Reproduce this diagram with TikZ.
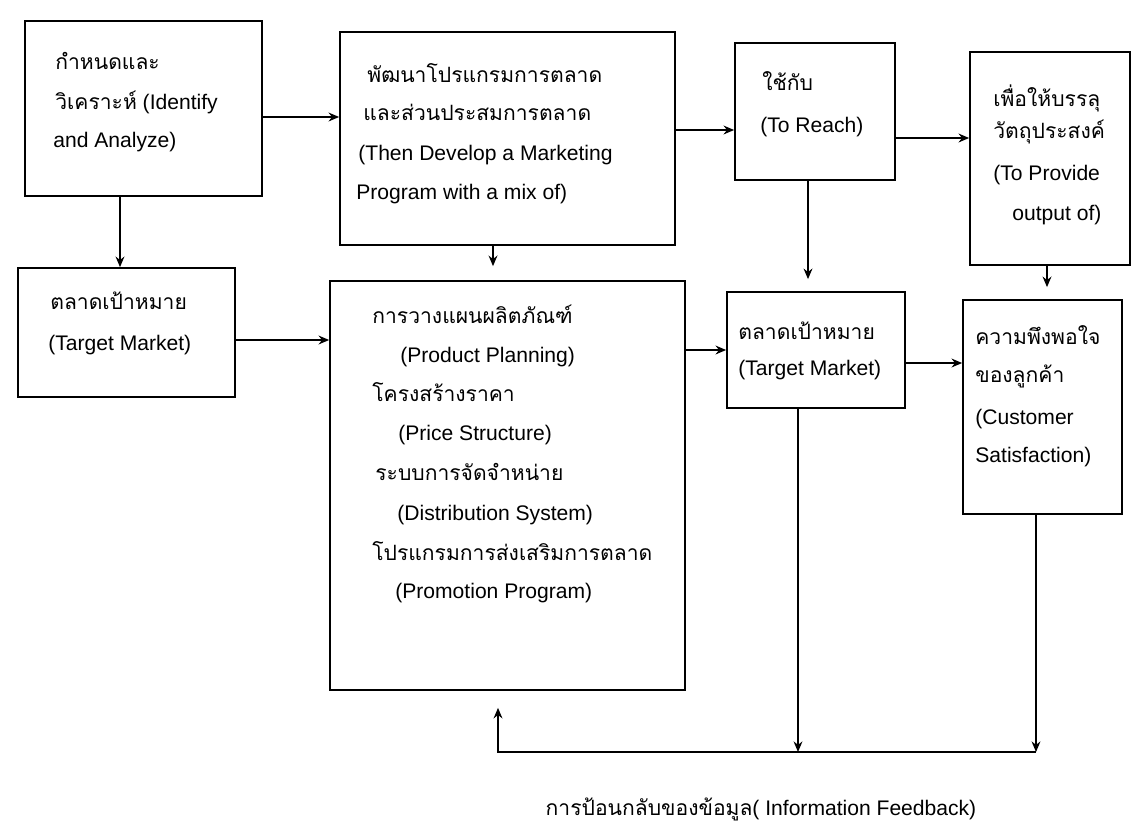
\documentclass[tikz,border=0pt]{standalone}
\usepackage{fontspec}
\setmainfont{Liberation Sans}
\newfontfamily\thai[Script=Thai]{Loma}
\usetikzlibrary{arrows.meta}
\begin{document}
\begin{tikzpicture}[x=0.02cm,y=-0.02cm,
  box/.style={draw,line width=1pt,inner sep=0pt},
  arr/.style={draw,line width=1pt,-{Stealth[length=6pt,width=5pt]}},
  txt/.style={anchor=base west,inner sep=0pt,font=\fontsize{12}{14}\selectfont},
  lbl/.style={anchor=base,inner sep=0pt,font=\fontsize{12}{14}\selectfont}]
\useasboundingbox (0,0) rectangle (1135,832);
\fill[white] (0,0) rectangle (1135,832);
% boxes
\node[box,minimum width=4.74cm,minimum height=3.50cm] (A) at (143.5,108.5) {};
\node[box,minimum width=6.70cm,minimum height=4.26cm] (B) at (507.5,138.5) {};
\node[box,minimum width=3.20cm,minimum height=2.74cm] (C) at (815,111.5) {};
\node[box,minimum width=3.20cm,minimum height=4.26cm] (D) at (1050,158.5) {};
\node[box,minimum width=4.34cm,minimum height=2.58cm] (E) at (126.5,332.5) {};
\node[box,minimum width=7.10cm,minimum height=8.18cm] (F) at (507.5,485.5) {};
\node[box,minimum width=3.56cm,minimum height=2.32cm] (G) at (816,350) {};
\node[box,minimum width=3.18cm,minimum height=4.28cm] (H) at (1042.5,407) {};
% texts
\node[txt] (a1) at (55,69) {\thai กำหนดและ};
\node[txt] (a2) at (55,109) {{\thai วิเคราะห์} (Identify};
\node[txt] (a3) at (53,147) {and Analyze)};
\node[txt] (b1) at (367,82) {\thai พัฒนาโปรแกรมการตลาด};
\node[txt] (b2) at (363,120) {\thai และส่วนประสมการตลาด};
\node[txt] (b3) at (358,160) {(Then Develop a Marketing};
\node[txt] (b4) at (356,199) {Program with a mix of)};
\node[txt] (c1) at (762,90) {\thai ใช้กับ};
\node[txt] (c2) at (760,132) {(To Reach)};
\node[txt] (d1) at (993,106) {\thai เพื่อให้บรรลุ};
\node[txt] (d2) at (993,138) {\thai วัตถุประสงค์};
\node[txt] (d3) at (993,180) {(To Provide};
\node[txt] (d4) at (1012,220) {output of)};
\node[txt] (e1) at (50,309) {\thai ตลาดเป้าหมาย};
\node[txt] (e2) at (48,350) {(Target Market)};
\node[txt] (f1) at (372,323) {\thai การวางแผนผลิตภัณฑ์};
\node[txt] (f2) at (400,362) {(Product Planning)};
\node[txt] (f3) at (372,401) {\thai โครงสร้างราคา};
\node[txt] (f4) at (398,440) {(Price Structure)};
\node[txt] (f5) at (375,480) {\thai ระบบการจัดจำหน่าย};
\node[txt] (f6) at (397,520) {(Distribution System)};
\node[txt] (f7) at (372,560) {\thai โปรแกรมการส่งเสริมการตลาด};
\node[txt] (f8) at (395,598) {(Promotion Program)};
\node[txt] (g1) at (738,339) {\thai ตลาดเป้าหมาย};
\node[txt] (g2) at (738,375) {(Target Market)};
\node[txt] (h1) at (975,344) {\thai ความพึงพอใจ};
\node[txt] (h2) at (975,382) {\thai ของลูกค้า};
\node[txt] (h3) at (975,424) {(Customer};
\node[txt] (h4) at (975,462) {Satisfaction)};
\node[lbl] (fb) at (761,815) {{\thai การป้อนกลับของข้อมูล}( Information Feedback)};
% connectors
\draw[arr] (A.east |- 0,117) -- (B.west |- 0,117);
\draw[arr] (A.south -| 120,0) -- (E.north -| 120,0);
\draw[arr] (B.east |- 0,130) -- (C.west |- 0,130);
\draw[arr] (C.east |- 0,138) -- (D.west |- 0,138);
\draw[arr,shorten >=0.28cm] (B.south -| 493,0) -- (F.north -| 493,0);
\draw[arr,shorten >=0.24cm] (C.south -| 808,0) -- (G.north -| 808,0);
\draw[arr,shorten >=0.24cm] (D.south -| 1047,0) -- (H.north -| 1047,0);
\draw[arr] (E.east |- 0,340) -- (F.west |- 0,340);
\draw[arr] (F.east |- 0,350) -- (G.west |- 0,350);
\draw[arr] (G.east |- 0,363) -- (H.west |- 0,363);
\coordinate (fbR) at (1036,752);
\coordinate (fbM) at (798,752);
\coordinate (fbL) at (498,752);
\draw[arr] (H.south -| fbR) -- (fbR);
\draw[arr] (G.south -| fbM) -- (fbM);
\draw[arr,shorten >=0.34cm] (fbR) -- (fbL) -- (F.south -| fbL);
\end{tikzpicture}
\end{document}
